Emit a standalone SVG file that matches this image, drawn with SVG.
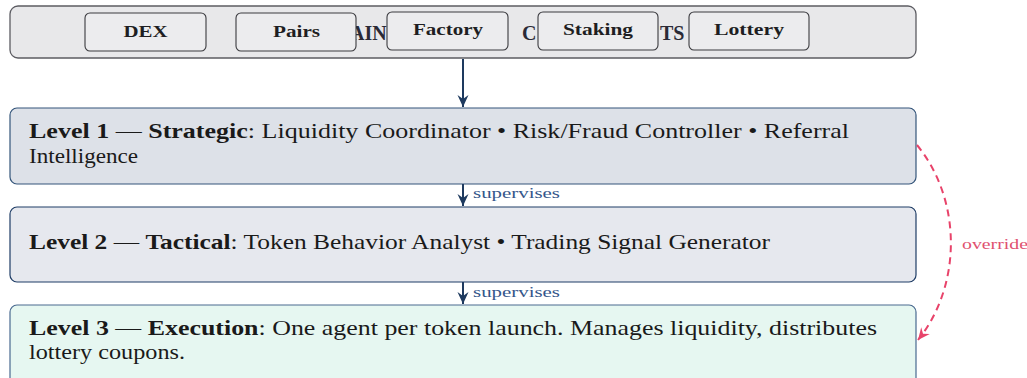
<svg xmlns="http://www.w3.org/2000/svg" width="1027" height="378" viewBox="0 0 1027 378">
<defs>
<style>
.container{fill:#e8e8ea;stroke:#5c5c62;stroke-width:1.3}
.title{font-family:"Liberation Serif",serif;font-weight:bold;font-size:20px;fill:#2a2a36}
.chip{fill:#ececee;stroke:#3a3a3e;stroke-width:1.1}
.chipt{font-family:"Liberation Serif",serif;font-weight:bold;font-size:16px;fill:#1e1e22;text-anchor:middle}
.lvl{stroke-width:1.2}
.body{font-family:"Liberation Serif",serif;font-size:21px;fill:#1a1a1a}
.body .b{font-weight:bold}
.nav{stroke:#1e3a5f;stroke-width:2;fill:none}
.sup{font-family:"Liberation Serif",serif;font-size:14px;fill:#34568a}
.ovr{stroke:#e8436a;stroke-width:2;fill:none;stroke-dasharray:7 5}
.ovrt{font-family:"Liberation Serif",serif;font-size:15px;fill:#e0506f}
</style>
<marker id="navHead" viewBox="-12 -6 13 12" refX="0" refY="0" markerWidth="13" markerHeight="12" markerUnits="userSpaceOnUse" orient="auto">
<path d="M0,0 L-12,-5.5 L-8,0 L-12,5.5 Z" fill="#1e3a5f"/>
</marker>
<marker id="redHead" viewBox="-12 -6 13 12" refX="0" refY="0" markerWidth="13" markerHeight="12" markerUnits="userSpaceOnUse" orient="auto">
<path d="M0,0 L-12,-5.5 L-8,0 L-12,5.5 Z" fill="#e8436a"/>
</marker>
</defs>

<g id="contracts">
<rect class="container" x="10" y="6" width="906" height="52" rx="8"/>
<text class="title" y="40"><tspan x="290">ON-CH</tspan><tspan x="350">AIN</tspan><tspan x="412">SMART</tspan><tspan x="522">C</tspan><tspan x="562">ONTRAC</tspan><tspan x="660">TS</tspan></text>
</g>
<g id="node-dex">
<rect class="chip" x="85" y="13" width="121" height="38" rx="5"/>
<text class="chipt" x="145.5" y="37" textLength="44" lengthAdjust="spacingAndGlyphs">DEX</text>
</g>
<g id="node-pairs">
<rect class="chip" x="236" y="13" width="120" height="38" rx="5"/>
<text class="chipt" x="296.5" y="37" textLength="47" lengthAdjust="spacingAndGlyphs">Pairs</text>
</g>
<g id="node-factory">
<rect class="chip" x="387" y="12" width="121" height="38" rx="5"/>
<text class="chipt" x="448" y="35" textLength="70" lengthAdjust="spacingAndGlyphs">Factory</text>
</g>
<g id="node-staking">
<rect class="chip" x="538" y="12" width="120" height="38" rx="5"/>
<text class="chipt" x="598" y="35" textLength="70" lengthAdjust="spacingAndGlyphs">Staking</text>
</g>
<g id="node-lottery">
<rect class="chip" x="689" y="12" width="120" height="38" rx="5"/>
<text class="chipt" x="749" y="35" textLength="70" lengthAdjust="spacingAndGlyphs">Lottery</text>
</g>

<g id="level1">
<rect class="lvl" x="10" y="108" width="906" height="76" rx="7" fill="#dde1e8" stroke="#34557a"/>
<text class="body" x="29" y="138" textLength="820" lengthAdjust="spacingAndGlyphs"><tspan class="b">Level 1</tspan> — <tspan class="b">Strategic</tspan>: Liquidity Coordinator • Risk/Fraud Controller • Referral</text>
<text class="body" x="29" y="163" textLength="109" lengthAdjust="spacingAndGlyphs">Intelligence</text>
</g>
<g id="level2">
<rect class="lvl" x="10" y="207" width="906" height="75" rx="7" fill="#e6e8ee" stroke="#1f3d66"/>
<text class="body" x="29" y="249" textLength="741" lengthAdjust="spacingAndGlyphs"><tspan class="b">Level 2</tspan> — <tspan class="b">Tactical</tspan>: Token Behavior Analyst • Trading Signal Generator</text>
</g>
<g id="level3">
<rect class="lvl" x="10" y="305" width="906" height="85" rx="7" fill="#e6f7f1" stroke="#4a6a90"/>
<text class="body" x="29" y="335" textLength="848" lengthAdjust="spacingAndGlyphs"><tspan class="b">Level 3</tspan> — <tspan class="b">Execution</tspan>: One agent per token launch.  Manages liquidity, distributes</text>
<text class="body" x="29" y="359" textLength="156" lengthAdjust="spacingAndGlyphs">lottery coupons.</text>
</g>

<g id="connectors">
<line class="nav" x1="463" y1="59" x2="463" y2="107" marker-end="url(#navHead)"/>
<line class="nav" x1="463" y1="184" x2="463" y2="206" marker-end="url(#navHead)"/>
<text class="sup" x="473" y="198" textLength="87" lengthAdjust="spacingAndGlyphs">supervises</text>
<line class="nav" x1="463" y1="282" x2="463" y2="304" marker-end="url(#navHead)"/>
<text class="sup" x="473" y="297" textLength="87" lengthAdjust="spacingAndGlyphs">supervises</text>
<path class="ovr" d="M917,145 C962,200 962,285 918,340" marker-end="url(#redHead)"/>
<text class="ovrt" x="962" y="249" textLength="66" lengthAdjust="spacingAndGlyphs">override</text>
</g>
</svg>
